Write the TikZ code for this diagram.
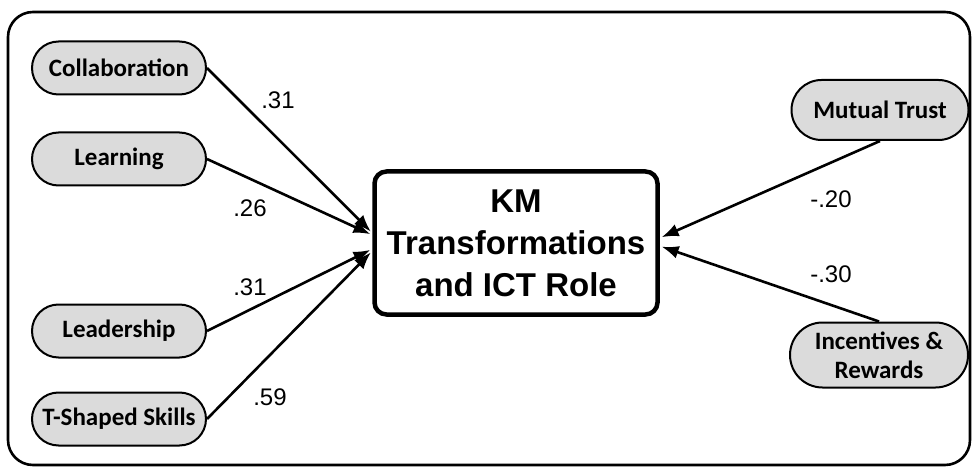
\documentclass[tikz,border=0pt]{standalone}
\usepackage{fontspec}
\setmainfont{Liberation Sans}
\newfontfamily\calibri{Carlito}
\usetikzlibrary{arrows.meta,shapes.misc,positioning}

\begin{document}
\begin{tikzpicture}[x=1pt,y=-1pt]
	\newcommand\wid{178pt}
	\newcommand\hei{53pt}
	\newcommand\gap{36pt}
	\tikzset{
		factor/.style={rounded rectangle, draw, line width=2pt, fill=black!14,
			minimum width=\wid, minimum height=\hei, inner sep=2pt, align=center,
			font=\calibri\bfseries\fontsize{25}{29}\selectfont},
		outcome/.style={draw, line width=4.5pt, rounded corners=12pt,
			minimum width=283pt, minimum height=143pt, align=center,
			font=\bfseries\fontsize{33}{42}\selectfont},
		effect/.style={line width=2.6pt, -{Latex[length=17pt,width=13pt]}, shorten >=2pt},
		coef/.style={font=\fontsize{24}{28}\selectfont},
	}
	\useasboundingbox (0,0) rectangle (976,470);
	% frame
	\draw[line width=2.6pt, rounded corners=25pt] (8,12) rectangle (970,465);
	% outcome
	\node[outcome] (k) at (516,243) {KM\\Transformations\\and ICT Role};
	% left factors
	\node[factor] (c1) at (119,68) {Collaboration};
	\node[factor, below=\gap of c1] (c2) {Learning};
	\node[factor] (c3) at (119,331) {Leadership};
	\node[factor, below=33pt of c3] (c4) {T-Shaped Skills};
	% right factors
	\node[factor, minimum width=181pt, minimum height=60pt] (m1) at (880,110) {Mutual Trust};
	\node[factor, minimum width=182pt, minimum height=65pt] (m2) at (879,355) {Incentives \&\\Rewards};
	% coefficients
	\node[coef] (w1) at (278,100) {.31};
	\node[coef] (w2) at (250,208) {.26};
	\node[coef] (w3) at (250,287) {.31};
	\node[coef] (w4) at (270,397) {.59};
	\node[coef] (w5) at (831,199) {-.20};
	\node[coef] (w6) at (831,274) {-.30};
	% paths (yshift goes up)
	\draw[effect] (c1.east) -- ([yshift=10pt]k.west);
	\draw[effect] (c2.east) -- ([yshift=8pt]k.west);
	\draw[effect] (c3.east) -- ([yshift=-6pt]k.west);
	\draw[effect] (c4.east) -- ([yshift=-8pt]k.west);
	\draw[effect] (m1.south) -- ([yshift=5pt]k.east);
	\draw[effect] (m2.north) -- ([yshift=-3pt]k.east);
\end{tikzpicture}
\end{document}
